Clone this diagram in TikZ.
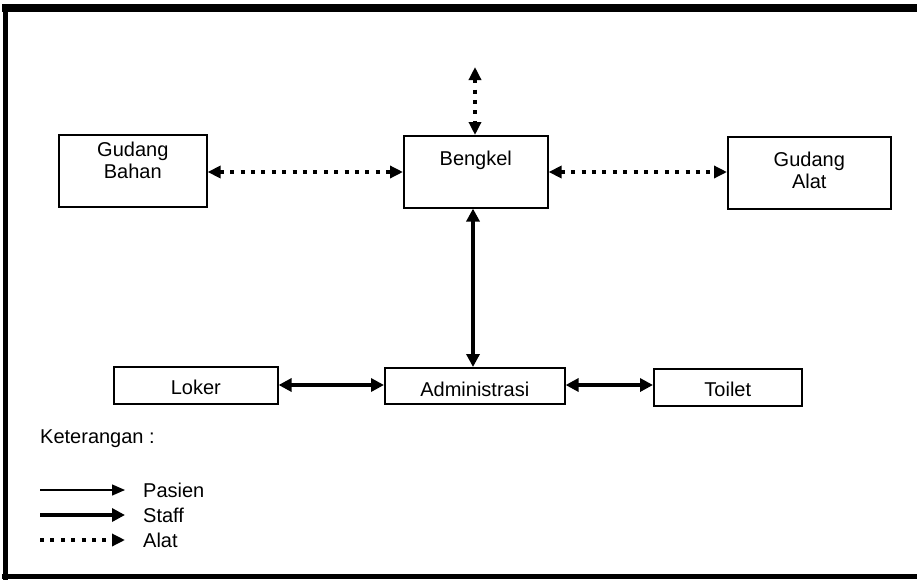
\documentclass[tikz,border=0pt]{standalone}
\usepackage{fontspec}
\setmainfont{Liberation Sans}
\usetikzlibrary{arrows.meta}
\begin{document}
\begin{tikzpicture}[x=1pt,y=-1pt,
  box/.style={draw, line width=1.6pt, inner sep=0pt, anchor=north west},
  lbl/.style={font=\fontsize{20}{22}\selectfont, inner sep=0pt, align=center, anchor=base},
  alat/.style={line width=4pt, dash pattern=on 4pt off 6.4pt, {Triangle[length=13pt,width=12pt]}-{Triangle[length=13pt,width=12pt]}},
  staff/.style={line width=4.5pt, {Triangle[length=13pt,width=13pt]}-{Triangle[length=13pt,width=13pt]}},
  alatkey/.style={line width=4pt, dash pattern=on 4pt off 6.4pt, -{Triangle[length=13pt,width=12pt]}},
  staffkey/.style={line width=4.5pt, -{Triangle[length=13pt,width=13pt]}},
  pasienkey/.style={line width=1.4pt, -{Triangle[length=13pt,width=11pt]}}]
  \useasboundingbox (0,0) rectangle (917,581);

  % outer frame (the right side runs off the page)
  \draw[line width=8pt] (930,8) -- (2,8);
  \draw[line width=5pt] (5,4) -- (5,580);
  \draw[line width=5pt] (2,576) -- (930,576);

  % rooms
  \node[box, minimum width=148pt, minimum height=72pt] (gb) at (58,134) {};
  \node[box, minimum width=144pt, minimum height=72pt] (bk) at (403,135) {};
  \node[box, minimum width=163pt, minimum height=72pt] (ga) at (727,136) {};
  \node[box, minimum width=164pt, minimum height=37pt] (lk) at (113,366) {};
  \node[box, minimum width=180pt, minimum height=36pt] (ad) at (384,367) {};
  \node[box, minimum width=148pt, minimum height=37pt] (tl) at (653,368) {};

  % room names (base anchor sits on the last line)
  \node[lbl] (gbt) at (gb.center |- 0,178) {Gudang\\Bahan};
  \node[lbl] (bkt) at (bk.center |- 0,165) {Bengkel};
  \node[lbl] (gat) at (ga.center |- 0,188) {Gudang\\Alat};
  \node[lbl] (lkt) at (lk.center |- 0,394) {Loker};
  \node[lbl] (adt) at (ad.center |- 0,396) {Administrasi};
  \node[lbl] (tlt) at (tl.center |- 0,396) {Toilet};

  % connections
  \coordinate (up) at (475,67);
  \draw[alat] (up) -- (bk.north -| up);
  \draw[alat] (gb.east |- 0,172) -- (bk.west |- 0,172);
  \draw[alat] (bk.east |- 0,172) -- (ga.west |- 0,172);
  \draw[staff] (bk.south -| 473,0) -- (ad.north -| 473,0);
  \draw[staff] (lk.east |- 0,385) -- (ad.west |- 0,385);
  \draw[staff] (ad.east |- 0,385) -- (tl.west |- 0,385);

  % key
  \node[lbl, anchor=base west] (ket) at (40,443) {Keterangan :};
  \coordinate (p0) at (40,490);  \coordinate (p1) at (125,490);
  \coordinate (s0) at (40,515);  \coordinate (s1) at (125,515);
  \coordinate (a0) at (40,540);  \coordinate (a1) at (125,540);
  \draw[pasienkey] (p0) -- (p1);
  \draw[staffkey] (s0) -- (s1);
  \draw[alatkey] (a0) -- (a1);
  \node[lbl, anchor=west] (kp) at (143,490) {Pasien};
  \node[lbl, anchor=west] (ks) at (143,515) {Staff};
  \node[lbl, anchor=west] (ka) at (143,540) {Alat};
\end{tikzpicture}
\end{document}
